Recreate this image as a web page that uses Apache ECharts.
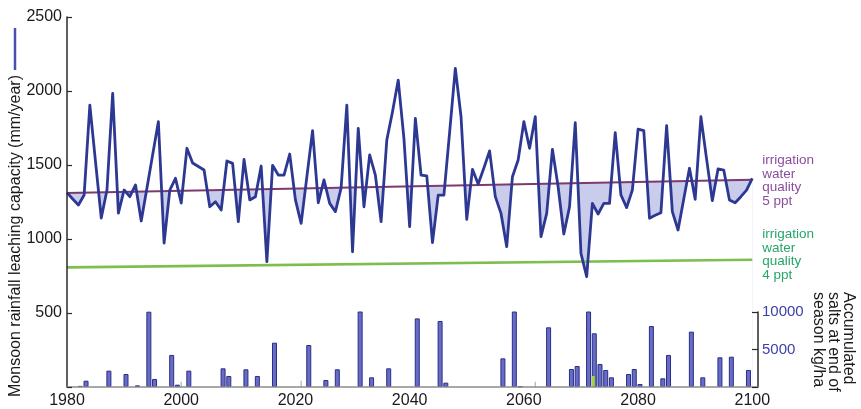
<!DOCTYPE html>
<html>
<head>
<meta charset="utf-8">
<script src="https://cdn.jsdelivr.net/npm/echarts@6/dist/echarts.min.js"></script>
<style>
  html, body { margin: 0; padding: 0; background: #ffffff; }
  #chart { width: 861px; height: 409px; }
</style>
</head>
<body>
<div id="chart"></div>
<script>
// Annual monsoon rainfall leaching capacity (mm/year), 1980 to 2100
const firstYear = 1980;
const leachingCapacity = [
  1313, 1270, 1230, 1297, 1905, 1520, 1142, 1331, 1984, 1175,
  1331, 1286, 1365, 1122, 1345, 1570, 1793, 973, 1331, 1410,
  1243, 1613, 1513, 1490, 1466, 1218, 1252, 1196, 1527, 1511,
  1117, 1538, 1264, 1286, 1493, 847, 1498, 1432, 1432, 1574,
  1264, 1106, 1420, 1732, 1245, 1399, 1241, 1185, 1345, 1905,
  914, 1748, 1218, 1568, 1432, 1117, 1669, 1860, 2074, 1680,
  1083, 1815, 1432, 1426, 975, 1297, 1297, 1720, 2153, 1826,
  1133, 1471, 1372, 1480, 1595, 1286, 1173, 948, 1421, 1534,
  1793, 1613, 1826, 1016, 1173, 1606, 1353, 1034, 1218, 1786,
  903, 745, 1241, 1169, 1241, 1241, 1718, 1297, 1212, 1331,
  1743, 1732, 1140, 1160, 1178, 1766, 1185, 1061, 1270, 1478,
  1268, 1826, 1540, 1259, 1473, 1466, 1264, 1245, 1286, 1330,
  1410
];

// Irrigation water quality thresholds (start and end of the period)
const thresholdYears = [1980, 2100];
const threshold5ppt = [1310, 1400];
const threshold4ppt = [808, 860];

// Accumulated salts at end of season (kg/ha)
const saltYears = [1982, 1983, 1987, 1990, 1992, 1994, 1995, 1998, 1999, 2001,
  2007, 2008, 2011, 2013, 2016, 2022, 2025, 2027, 2031, 2033,
  2036, 2041, 2045, 2046, 2056, 2058, 2059, 2064, 2068, 2069,
  2071, 2072, 2073, 2074, 2075, 2078, 2079, 2080, 2082, 2084,
  2085, 2089, 2091, 2094, 2096, 2099];
const saltValues = [150, 840, 2180, 1730, 220, 10040, 1070, 4270, 310, 2180,
  2490, 1470, 2360, 1470, 5910, 5600, 930, 2360, 10130, 1290,
  2490, 9150, 8800, 580, 3820, 10130, 60, 7960, 2400, 2800,
  10130, 7160, 3070, 2270, 1290, 1730, 2400, 400, 8130, 1160,
  4270, 7380, 1290, 3960, 4040, 2270];
const saltGreenYears = [2072];
const saltGreenValues = [1470];
const saltTraceYears = [2000, 2021, 2062];
const saltTraceValues = [700, 840, 700];

// Axis tick values
const yearTicks = [1980, 2000, 2020, 2040, 2060, 2080, 2100];
const capacityTicks = [500, 1000, 1500, 2000, 2500];
const saltTicks = [5000, 10000];

const FONT = '"Liberation Sans", Arial, Helvetica, sans-serif';

const pairs = (xs, ys) => xs.map((x, i) => [x, ys[i]]);
const capacityData = leachingCapacity.map((v, i) => [firstYear + i, v]);

const chart = echarts.init(document.getElementById('chart'), null, { renderer: 'canvas' });

const gridLeft = 67;
const gridWidth = 691;

chart.setOption({
  animation: false,
  backgroundColor: '#ffffff',
  grid: [
    { left: gridLeft, top: 17, width: gridWidth, height: 370 },
    { left: gridLeft, top: 312, width: gridWidth, height: 75 }
  ],
  xAxis: [
    {
      type: 'value', gridIndex: 0, min: 1980, max: 2101, interval: 20, z: 10,
      axisLine: { show: true, lineStyle: { color: '#8c8c8c', width: 1.5 } },
      axisTick: { show: false },
      splitLine: { show: false },
      axisLabel: {
        fontFamily: FONT, fontSize: 16, color: '#1a1a1a', margin: 6,
        showMaxLabel: false,
        formatter: v => (yearTicks.indexOf(v) >= 0 ? String(v) : '')
      }
    },
    {
      type: 'value', gridIndex: 1, min: 1980, max: 2101, show: false,
      splitLine: { show: false }
    }
  ],
  yAxis: [
    {
      type: 'value', gridIndex: 0, min: 0, max: 2500, interval: 500, z: 10,
      axisLine: { show: true, lineStyle: { color: '#2a2a2a', width: 1.5 } },
      axisTick: { show: true, inside: true, length: 5, lineStyle: { color: '#2a2a2a', width: 1.2 } },
      splitLine: { show: false },
      axisLabel: {
        fontFamily: FONT, fontSize: 16, color: '#1a1a1a', margin: 5,
        formatter: v => (capacityTicks.indexOf(v) >= 0 ? String(v) : '')
      }
    },
    {
      type: 'value', gridIndex: 1, position: 'right', min: 0, max: 10000, interval: 5000, z: 10,
      axisLine: { show: true, lineStyle: { color: '#2a2a2a', width: 1.5 } },
      axisTick: { show: true, inside: true, length: 6, lineStyle: { color: '#2a2a2a', width: 1.2 } },
      splitLine: { show: false },
      axisLabel: {
        fontFamily: FONT, fontSize: 15, color: '#3c40a8', margin: 4,
        formatter: v => (saltTicks.indexOf(v) >= 0 ? String(v) : '')
      }
    }
  ],
  series: [
    {
      // shaded band under the 5 ppt threshold
      name: 'band', type: 'line', xAxisIndex: 0, yAxisIndex: 0, z: 1, silent: true,
      data: pairs(thresholdYears, threshold5ppt), symbol: 'none',
      lineStyle: { width: 0, opacity: 0 },
      areaStyle: { color: '#c9cceb', opacity: 1 }
    },
    {
      // clears the band beneath the rainfall curve, leaving only the deficit shaded
      name: 'mask', type: 'line', xAxisIndex: 0, yAxisIndex: 0, z: 2, silent: true,
      data: capacityData, symbol: 'none',
      lineStyle: { width: 0, opacity: 0 },
      areaStyle: { color: '#ffffff', opacity: 1 }
    },
    {
      name: '4 ppt', type: 'line', xAxisIndex: 0, yAxisIndex: 0, z: 3,
      data: pairs(thresholdYears, threshold4ppt), symbol: 'none',
      lineStyle: { color: '#7dbf4e', width: 2.6 },
      endLabel: {
        show: true, formatter: 'irrigation\nwater\nquality\n4 ppt',
        fontFamily: FONT, fontSize: 13.5, lineHeight: 13.5, color: '#27a56a',
        align: 'left', verticalAlign: 'middle', offset: [2, -5]
      }
    },
    {
      name: '5 ppt', type: 'line', xAxisIndex: 0, yAxisIndex: 0, z: 3,
      data: pairs(thresholdYears, threshold5ppt), symbol: 'none',
      lineStyle: { color: '#7c3a6e', width: 2 },
      endLabel: {
        show: true, formatter: 'irrigation\nwater\nquality\n5 ppt',
        fontFamily: FONT, fontSize: 13.5, lineHeight: 13.5, color: '#8b4c9c',
        align: 'left', verticalAlign: 'middle', offset: [2, 1]
      }
    },
    {
      name: 'leaching capacity', type: 'line', xAxisIndex: 0, yAxisIndex: 0, z: 4,
      data: capacityData, symbol: 'none',
      lineStyle: { color: '#2d3893', width: 2.8, join: 'round' }
    },
    {
      name: 'salts', type: 'bar', xAxisIndex: 1, yAxisIndex: 1, z: 5,
      data: pairs(saltYears, saltValues), barWidth: 5,
      itemStyle: { color: '#676cc6', borderColor: '#2a2e86', borderWidth: 1 }
    },
    {
      name: 'salts 4 ppt', type: 'bar', xAxisIndex: 1, yAxisIndex: 1, z: 6,
      data: pairs(saltGreenYears, saltGreenValues), barWidth: 3, barGap: '-100%',
      itemStyle: { color: '#a6d23a', borderWidth: 0 }
    },
    {
      name: 'salts trace', type: 'bar', xAxisIndex: 1, yAxisIndex: 1, z: 5,
      data: pairs(saltTraceYears, saltTraceValues), barWidth: 1.2, barGap: '-100%',
      itemStyle: { color: '#b9b3a2', borderWidth: 0 }
    }
  ],
  graphic: [
    {
      type: 'line', z: 20,
      shape: { x1: 15, y1: 28, x2: 15, y2: 70 },
      style: { stroke: '#4a4fb0', lineWidth: 2.5 }
    },
    {
      type: 'text', z: 20, x: 16, y: 236, rotation: Math.PI / 2,
      style: {
        text: 'Monsoon rainfall leaching capacity (mm/year)',
        fontFamily: FONT, fontSize: 16, fill: '#1a1a1a',
        align: 'center', verticalAlign: 'middle',
        textAlign: 'center', textVerticalAlign: 'middle'
      }
    },
    {
      type: 'text', z: 20, x: 833, y: 292, rotation: -Math.PI / 2,
      style: {
        text: 'Accumulated\nsalts at end of\nseason kg/ha',
        fontFamily: FONT, fontSize: 16, lineHeight: 15, fill: '#1a1a1a',
        align: 'left', verticalAlign: 'middle',
        textAlign: 'left', textVerticalAlign: 'middle'
      }
    }
  ]
});
</script>
</body>
</html>
